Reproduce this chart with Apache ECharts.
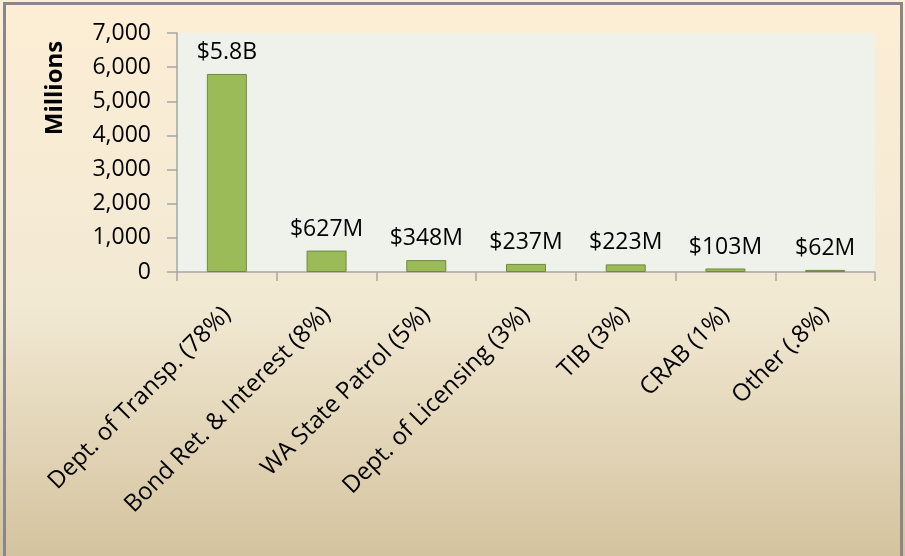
<!DOCTYPE html>
<html>
<head>
<meta charset="utf-8">
<script src="https://cdn.jsdelivr.net/npm/echarts@6/dist/echarts.min.js"></script>
<style>
  html, body { margin: 0; padding: 0; }
  #chart { width: 905px; height: 556px; }
</style>
</head>
<body>
<div id="chart"></div>
<script>
var categories = ['Dept. of Transp. (78%)', 'Bond Ret. & Interest (8%)', 'WA State Patrol (5%)',
                  'Dept. of Licensing (3%)', 'TIB (3%)', 'CRAB (1%)', 'Other (.8%)'];
var amounts = [5800, 627, 348, 237, 223, 103, 62];
var amountLabels = ['$5.8B', '$627M', '$348M', '$237M', '$223M', '$103M', '$62M'];

var font = 'Open Sans';
var chart = echarts.init(document.getElementById('chart'));

var option = {
    backgroundColor: {
        type: 'linear', x: 0, y: 0, x2: 0, y2: 1,
        colorStops: [
            { offset: 0, color: '#fdeed5' },
            { offset: 0.55, color: '#f2e9d3' },
            { offset: 1, color: '#d4c39e' }
        ]
    },
    grid: {
        left: 177,
        right: 30,
        top: 33,
        bottom: 284,
        show: true,
        backgroundColor: '#eff2ea',
        borderWidth: 0
    },
    graphic: [
        {
            type: 'rect',
            shape: { x: 4.5, y: 3.5, width: 897, height: 560 },
            style: { fill: 'none', stroke: '#888888', lineWidth: 3 },
            silent: true
        },
        {
            type: 'text',
            x: 55, y: 88,
            rotation: Math.PI / 2,
            style: {
                text: 'Millions',
                font: 'bold 24px "' + font + '"',
                fill: '#000',
                align: 'center',
                verticalAlign: 'middle'
            }
        }
    ],
    xAxis: {
        type: 'category',
        data: categories,
        axisLine: { lineStyle: { color: '#a6a6a6', width: 1.5 } },
        axisTick: { show: true, length: 9, lineStyle: { color: '#a6a6a6', width: 1.5 } },
        axisLabel: {
            rotate: 45,
            interval: 0,
            margin: 39,
            fontFamily: font,
            fontSize: 24,
            color: '#000'
        }
    },
    yAxis: {
        type: 'value',
        min: 0,
        max: 7000,
        interval: 1000,
        splitLine: { show: false },
        axisLine: { show: true, lineStyle: { color: '#a6a6a6', width: 1.5 } },
        axisTick: { show: true, length: 10, lineStyle: { color: '#a6a6a6', width: 1.5 } },
        axisLabel: {
            margin: 26,
            fontFamily: font,
            fontSize: 23,
            color: '#000',
            formatter: function (v) { return v.toLocaleString('en-US'); }
        }
    },
    series: [{
        type: 'bar',
        data: amounts,
        barWidth: 40,
        itemStyle: { color: '#9bbb59', borderColor: '#71893f', borderWidth: 1 },
        label: {
            show: true,
            position: 'top',
            distance: 10,
            fontFamily: font,
            fontSize: 23,
            color: '#000',
            formatter: function (p) { return amountLabels[p.dataIndex]; }
        }
    }]
};
chart.setOption(option);
</script>
</body>
</html>
